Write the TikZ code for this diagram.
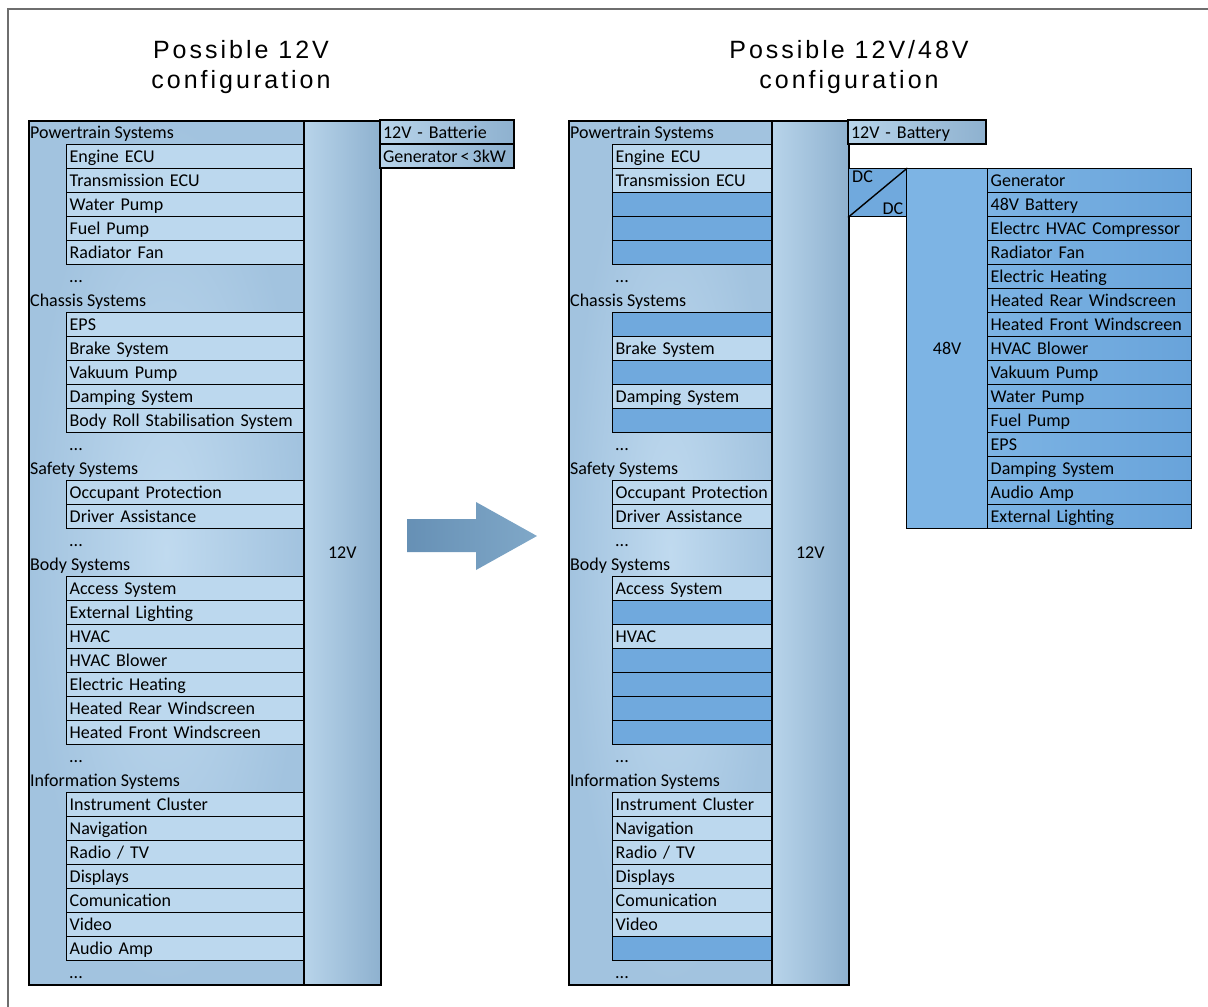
\documentclass[tikz,border=0pt]{standalone}
\usepackage{fontspec}
\setmainfont{Carlito}
\newfontfamily\titlefont[LetterSpace=12]{Liberation Sans}
\usetikzlibrary{positioning}
\definecolor{panellight}{HTML}{C0DAEF}
\definecolor{paneldark}{HTML}{A2C3DF}
\definecolor{barlight}{HTML}{B8D4EA}
\definecolor{bardark}{HTML}{8EB1CF}
\definecolor{celllight}{HTML}{BCD8EE}
\definecolor{cellblue}{HTML}{70A9DD}
\definecolor{hvblue}{HTML}{7DB4E4}
\definecolor{hvdark}{HTML}{68A3DA}
\definecolor{arrowleft}{HTML}{6690B5}
\definecolor{arrowright}{HTML}{80A8C8}
\definecolor{framegray}{HTML}{6E6E6E}
\newcommand\moreitems{...}

\begin{document}
\begin{tikzpicture}[
    x=1pt, y=-1pt,
    node distance=0pt,
    every node/.style={font=\fontsize{18}{20}\selectfont, inner sep=0pt},
    title/.style={font=\titlefont\fontsize{25}{30}\selectfont, align=center},
    panel/.style={draw, line width=1.6pt, anchor=north west, inner color=panellight, outer color=paneldark},
    bar/.style={draw, line width=1.6pt, anchor=north west, left color=barlight, right color=bardark},
    rowtext/.style={anchor=north west, minimum height=24pt, text height=14pt, text depth=2pt, inner xsep=2pt},
    catrow/.style={rowtext},
    dotsrow/.style={rowtext, xshift=\subdx+1pt},
    itemrow/.style={rowtext, draw, line width=1.4pt, fill=celllight, xshift=\subdx, text width=\cellt, align=left, inner xsep=3pt},
    blankrow/.style={itemrow, fill=cellblue},
    batt/.style={draw, line width=1.4pt, outer sep=0pt, anchor=north west, minimum height=24pt, text height=14pt, text depth=2pt, text width=\cellt, align=left, inner xsep=3pt, left color=barlight, right color=bardark},
    hvrow/.style={rowtext, draw, line width=1.4pt, text width=198pt, align=left, inner xsep=3pt, left color=hvblue, right color=hvdark},
    hvbox/.style={draw, line width=1.4pt, anchor=north west, fill=hvblue}
  ]
    \useasboundingbox (0,0) rectangle (1208,1007);
    \draw[framegray, line width=1.5pt] (8,1007) |- (1208,9);

    \node[title] (ltitle) at (241,67) {Possible 12V\\configuration};
    \node[title] (rtitle) at (849,67) {Possible 12V/48V\\configuration};

    % 12V only
    \node[panel, minimum width=275pt, minimum height=864pt] (lpanel) at (28,120) {};
    \node[bar, minimum width=77pt, minimum height=864pt] (lbar) at (303,120) {12V};
    \def\subdx{38pt}\def\cellt{231pt}
    \foreach \kind/\txt [count=\i] in {
        catrow/Powertrain Systems, itemrow/Engine ECU, itemrow/Transmission ECU,
        itemrow/Water Pump, itemrow/Fuel Pump, itemrow/Radiator Fan, dotsrow/\moreitems,
        catrow/Chassis Systems, itemrow/EPS, itemrow/Brake System, itemrow/Vakuum Pump,
        itemrow/Damping System, itemrow/Body Roll Stabilisation System, dotsrow/\moreitems,
        catrow/Safety Systems, itemrow/Occupant Protection, itemrow/Driver Assistance,
        dotsrow/\moreitems,
        catrow/Body Systems, itemrow/Access System, itemrow/External Lighting, itemrow/HVAC,
        itemrow/HVAC Blower, itemrow/Electric Heating, itemrow/Heated Rear Windscreen,
        itemrow/Heated Front Windscreen, dotsrow/\moreitems,
        catrow/Information Systems, itemrow/Instrument Cluster, itemrow/Navigation,
        itemrow/{Radio / TV}, itemrow/Displays, itemrow/Comunication, itemrow/Video,
        itemrow/Audio Amp, dotsrow/\moreitems}
      \node[\kind] (L\i) at (28,{96+24*\i}) {\txt};
    \def\cellt{128pt}
    \node[batt] (lbat) at (380,120) {12V - Batterie};
    \node[batt, below=of lbat] (lgen) {Generator\,<\,3kW};

    \shade[left color=arrowleft, right color=arrowright]
      (407,519) -- (476,519) -- (476,502) -- (537,536) -- (476,570) -- (476,552) -- (407,552) -- cycle;

    % 12V/48V
    \node[panel, minimum width=203pt, minimum height=864pt] (rpanel) at (568,120) {};
    \node[bar, minimum width=77pt, minimum height=864pt] (rbar) at (771,120) {12V};
    \def\subdx{44pt}\def\cellt{153pt}
    \foreach \kind/\txt [count=\i] in {
        catrow/Powertrain Systems, itemrow/Engine ECU, itemrow/Transmission ECU,
        blankrow/{}, blankrow/{}, blankrow/{}, dotsrow/\moreitems,
        catrow/Chassis Systems, blankrow/{}, itemrow/Brake System, blankrow/{},
        itemrow/Damping System, blankrow/{}, dotsrow/\moreitems,
        catrow/Safety Systems, itemrow/Occupant Protection, itemrow/Driver Assistance,
        dotsrow/\moreitems,
        catrow/Body Systems, itemrow/Access System, blankrow/{}, itemrow/HVAC,
        blankrow/{}, blankrow/{}, blankrow/{}, blankrow/{}, dotsrow/\moreitems,
        catrow/Information Systems, itemrow/Instrument Cluster, itemrow/Navigation,
        itemrow/{Radio / TV}, itemrow/Displays, itemrow/Comunication, itemrow/Video,
        blankrow/{}, dotsrow/\moreitems}
      \node[\kind] (R\i) at (568,{96+24*\i}) {\txt};
    \def\cellt{132pt}
    \node[batt] (rbat) at (848,120) {12V - Battery};

    \node[hvbox, fill=cellblue, minimum width=58pt, minimum height=48pt] (dcdc) at (848,168) {};
    \draw[line width=1.4pt] (dcdc.south west) -- (dcdc.north east);
    \node[anchor=north west, inner xsep=4pt, inner ysep=3pt] (dcin) at (dcdc.north west) {DC};
    \node[anchor=south east, inner xsep=4pt, inner ysep=3pt] (dcout) at (dcdc.south east) {DC};
    \node[hvbox, minimum width=81pt, minimum height=360pt] (hvbar) at (906,168) {48V};
    \foreach \txt [count=\i] in {Generator, 48V Battery, Electrc HVAC Compressor, Radiator Fan,
        Electric Heating, Heated Rear Windscreen, Heated Front Windscreen, HVAC Blower,
        Vakuum Pump, Water Pump, Fuel Pump, EPS, Damping System, Audio Amp, External Lighting}
      \node[hvrow] (H\i) at (987,{144+24*\i}) {\txt};
  \end{tikzpicture}
\end{document}
